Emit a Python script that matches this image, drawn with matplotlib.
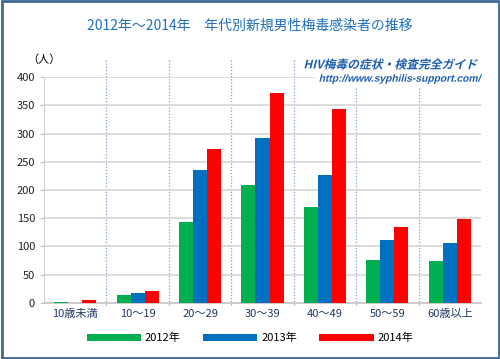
import matplotlib.pyplot as plt
import numpy as np
from matplotlib.patches import Rectangle, PathPatch
from matplotlib.textpath import TextPath
from matplotlib.font_manager import FontProperties
from matplotlib.transforms import Affine2D

plt.rcParams['font.family'] = ['Noto Sans CJK JP', 'DejaVu Sans']

# --- Data ---
categories = ['10歳未満', '10～19', '20～29', '30～39', '40～49', '50～59', '60歳以上']
years = ['2012年', '2013年', '2014年']
v2012 = [2, 14, 143, 208, 170, 76, 75]
v2013 = [0, 18, 236, 292, 227, 112, 106]
v2014 = [5, 21, 272, 372, 343, 135, 148]
colors = ['#00B050', '#0070C0', '#FF0000']
yticks = [0, 50, 100, 150, 200, 250, 300, 350, 400]

DPI = 100


def slanted_text(fig, s, right_px, center_py, size, prop, color):
    # italic look for fonts that have no italic face: skew the glyph outlines
    tp = TextPath((0, 0), s, size=size, prop=prop)
    ext = tp.get_extents()
    k = DPI / 72
    width = ext.x1 * k
    tr = (Affine2D().translate(0, -(ext.y0 + ext.y1) / 2).skew_deg(14, 0).scale(k)
          .translate(right_px - width, fig.bbox.height - center_py))
    patch = PathPatch(tr.transform_path(tp), facecolor=color, edgecolor='none',
                      transform=None, zorder=6)
    fig.patches.append(patch)
    # white backing so the dotted separators stop under the text
    fig.patches.append(Rectangle((right_px - width - 3, fig.bbox.height - center_py - 8),
                                 width + 8, 16, transform=None, facecolor='white',
                                 edgecolor='none', zorder=5))


# --- Figure ---
fig = plt.figure(figsize=(5, 3.59), dpi=DPI)
ax = fig.add_axes([0.088, 0.156, 0.874, 0.6295])

x = np.arange(len(categories))
w = 0.225
for i, vals in enumerate([v2012, v2013, v2014]):
    ax.bar(x + (i - 1) * w, vals, width=w, color=colors[i], label=years[i], zorder=3)

ax.set_xlim(-0.5, len(categories) - 0.5)
ax.set_ylim(0, 400)
ax.set_yticks(yticks)
ax.set_xticks(x)
ax.set_xticklabels(categories, fontsize=8, color='#1F3864')
ax.tick_params(axis='y', labelsize=8, colors='#222222', length=3, color='#BFBFBF')
ax.tick_params(axis='x', length=0, pad=4)
ax.grid(axis='y', color='#D9D9D9', linewidth=1.3, zorder=0)
for s in ['top', 'right']:
    ax.spines[s].set_visible(False)
ax.spines['left'].set_color('#D0D0D0')
ax.spines['bottom'].set_color('#C8C8C8')
ax.spines['bottom'].set_linewidth(1.3)

# dotted separators between age groups
for b in x[:-1] + 0.5:
    ax.axvline(b, ymin=-0.01, ymax=1.075, color='#7F9FD0', linestyle=(0, (1, 1.5)),
               linewidth=0.9, clip_on=False, zorder=1)

# title and annotations
fig.text(0.5, 0.927, '2012年～2014年　年代別新規男性梅毒感染者の推移',
         ha='center', va='center', fontsize=10, color='#1F6FBF')
ax.text(0.0, 1.075, '（人）', transform=ax.transAxes, ha='center', va='center', fontsize=8)

bold_jp = FontProperties(family='Noto Sans CJK JP', weight='bold')
bold_en = FontProperties(family='Liberation Sans', weight='bold')
slanted_text(fig, 'HIV梅毒の症状・検査完全ガイド', 477, 64, 8.5, bold_jp, '#1F5FAF')
slanted_text(fig, 'http://www.syphilis-support.com/', 481, 79, 7.4, bold_en, '#1F5FAF')

fig.legend(loc='center', bbox_to_anchor=(0.5, 0.058), ncol=3, frameon=False,
           fontsize=8, handlelength=4.9, handleheight=0.7, handletextpad=0.35,
           columnspacing=2.0)

# outer border
fig.patches.append(Rectangle((0.003, 0.004), 0.994, 0.992, transform=fig.transFigure,
                             fill=False, edgecolor='#3F6A9A', linewidth=2))

fig.savefig('out.png', dpi=DPI)
